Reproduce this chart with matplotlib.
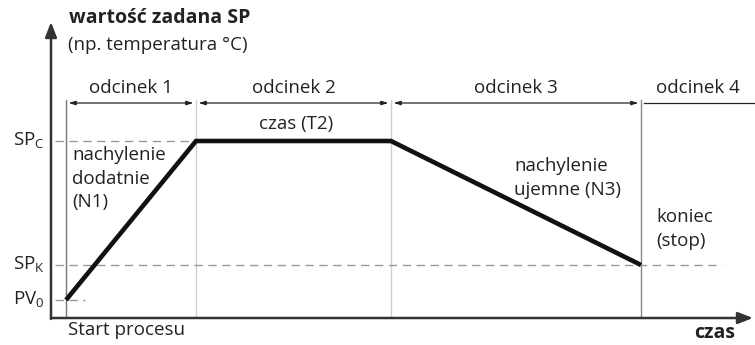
import matplotlib.pyplot as plt

plt.rcParams['font.family'] = ['Open Sans', 'DejaVu Sans']

# czas [min] - granice odcinkow i wartosci zadane [degC]
t_points = [0, 13, 32.5, 57.5]
sp_points = [20, 179, 179, 55]
PV0, SPK, SPC = 20, 55, 179
segment_names = ['odcinek 1', 'odcinek 2', 'odcinek 3', 'odcinek 4']

xmin, xmax = -1.5, 68.9
ymin, ymax = 2, 298

fig = plt.figure(figsize=(7.55, 3.45), dpi=100)
ax = fig.add_axes([51 / 755, 27 / 345, 704 / 755, 296 / 345])
ax.set_xlim(xmin, xmax)
ax.set_ylim(ymin, ymax)
ax.axis('off')

FS = 13.5

# osie ze strzalkami
ax.annotate('', xy=(xmin, ymax), xytext=(xmin, ymin - 1),
            arrowprops=dict(arrowstyle='-|>,head_length=0.9,head_width=0.35',
                            color='#333333', lw=1.8, shrinkA=0, shrinkB=0))
ax.annotate('', xy=(xmax - 0.2, ymin), xytext=(xmin, ymin),
            arrowprops=dict(arrowstyle='-|>,head_length=0.9,head_width=0.35',
                            color='#333333', lw=1.8, shrinkA=0, shrinkB=0))

# pionowe linie granic odcinkow
top = 220
line_colors = ['#777777', '#cfcfcf', '#cfcfcf', '#888888']
for t, c in zip(t_points, line_colors):
    ax.plot([t, t], [ymin, top], color=c, lw=1.0)

# strzalki wymiarowe
dim_y = 217
bounds = t_points + [xmax]
for i in range(len(t_points)):
    a, b = bounds[i], bounds[i + 1]
    if i < 3:
        ax.annotate('', xy=(b - 0.25, dim_y), xytext=(a + 0.25, dim_y),
                    arrowprops=dict(arrowstyle='<|-|>,head_length=0.4,head_width=0.12',
                                    color='#222222', lw=0.9, shrinkA=0, shrinkB=0))
    else:
        ax.plot([a + 0.25, b], [dim_y, dim_y], color='#222222', lw=0.9)
    ax.text((a + b) / 2, 232, segment_names[i],
            ha='center', va='center', fontsize=FS, color='#222222')

# linie przerywane poziomow
dash = dict(color='#999999', lw=1.0, dashes=(6, 4))
ax.plot([-1.1, t_points[1]], [SPC, SPC], **dash)
ax.plot([-1.1, 65.6], [SPK, SPK], **dash)
ax.plot([-1.1, 1.9], [PV0, PV0], **dash)

# przebieg wartosci zadanej
ax.plot(t_points, sp_points, color='#111111', lw=3.3, solid_capstyle='butt',
        solid_joinstyle='miter')

# etykiety osi Y
lab = dict(ha='right', va='center', fontsize=FS, color='#222222')
ax.text(-2.1, SPC, r'SP$_\mathregular{C}$', **lab)
ax.text(-2.1, SPK, r'SP$_\mathregular{K}$', **lab)
ax.text(-2.1, PV0, r'PV$_\mathregular{0}$', **lab)

# opisy
txt = dict(fontsize=FS, color='#222222', linespacing=1.4)
ax.text(0.3, 302, 'wartość zadana SP', fontsize=14, fontweight='bold',
        color='#222222', va='center', ha='left')
ax.text(0.2, 275, '(np. temperatura °C)', va='center', ha='left', **txt)
ax.text(23.0, 196, 'czas (T2)', ha='center', va='center', **txt)
ax.text(0.6, 174, 'nachylenie\ndodatnie\n(N1)', ha='left', va='top', **txt)
ax.text(44.8, 163, 'nachylenie\nujemne (N3)', ha='left', va='top', **txt)
ax.text(59.0, 112, 'koniec\n(stop)', ha='left', va='top', **txt)
ax.text(0.2, -10, 'Start procesu', ha='left', va='center', **txt)
ax.text(66.9, -13, 'czas', ha='right', va='center', fontsize=14,
        fontweight='bold', color='#222222')

fig.savefig('out.png', dpi=100)
